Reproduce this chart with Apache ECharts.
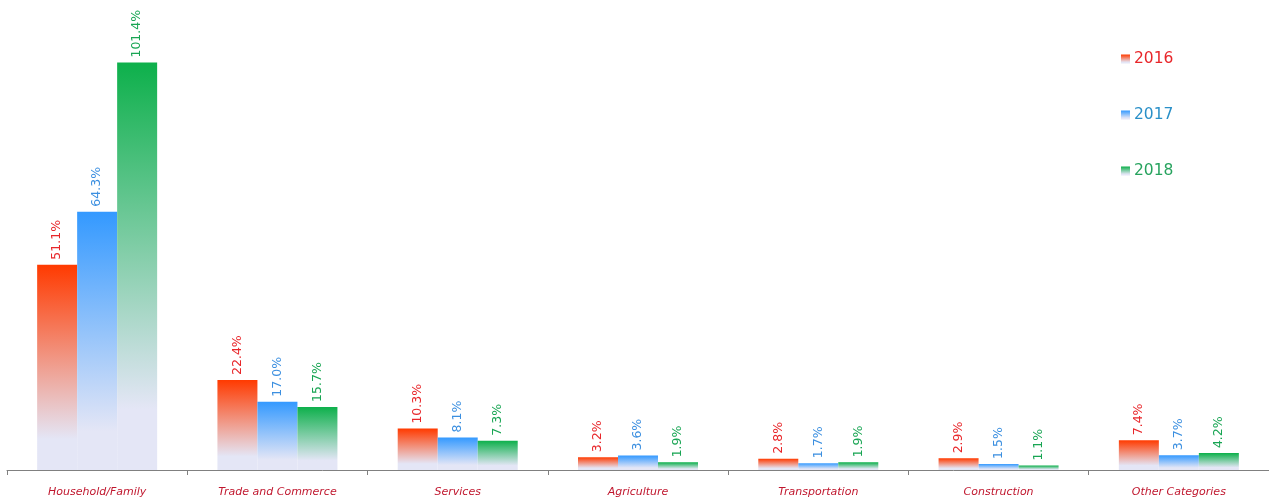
<!DOCTYPE html>
<html><head><meta charset="utf-8">
<script src="https://cdn.jsdelivr.net/npm/echarts@6/dist/echarts.min.js"></script>
<style>html,body{margin:0;padding:0;background:#fff}#c{width:1269px;height:504px}</style>
</head><body><div id="c"></div>
<script>
var categories = ['Household/Family','Trade and Commerce','Services','Agriculture','Transportation','Construction','Other Categories'];
var seriesNames = ['2016','2017','2018'];
var values2016 = [51.1, 22.4, 10.3, 3.2, 2.8, 2.9, 7.4];
var values2017 = [64.3, 17.0, 8.1, 3.6, 1.7, 1.5, 3.7];
var values2018 = [101.4, 15.7, 7.3, 1.9, 1.9, 1.1, 4.2];

var topColors = ['#ff3a00', '#3399ff', '#0db04b'];
var labelColors = ['#e8262a', '#3b8fe0', '#18a553'];
var legendColors = ['#e8262a', '#2a90c8', '#27a35e'];
var bottomColor = '#e4e6f6';
function grad(c){ return new echarts.graphic.LinearGradient(0,0,0,1,[{offset:0,color:c},{offset:0.85,color:bottomColor},{offset:1,color:bottomColor}]); }

var allValues = [values2016, values2017, values2018];
var series = allValues.map(function(v,i){
  return {
    name: seriesNames[i], type:'bar', data:v, barWidth:40, barGap:'0%',
    itemStyle:{color:grad(topColors[i])},
    label:{show:true, position:'top', rotate:90, align:'left', verticalAlign:'middle', distance:5,
      fontFamily:'DejaVu Sans', fontSize:12.5, color:labelColors[i],
      formatter:function(p){return p.value.toFixed(1)+'%';}}
  };
});

var chart = echarts.init(document.getElementById('c'));
chart.setOption({
  animation:false,
  grid:{left:7, top:28, width:1265, bottom:34, containLabel:false},
  legend:{orient:'vertical', left:1116, top:46, itemGap:40, itemWidth:9, itemHeight:9, icon:'rect',
    data: seriesNames.map(function(n,i){return {name:n, textStyle:{color:legendColors[i]}};}),
    textStyle:{fontFamily:'DejaVu Sans', fontSize:15.5, padding:[0,0,0,-1]}},
  xAxis:{type:'category', data:categories, boundaryGap:true,
    axisLine:{lineStyle:{color:'#808080', width:1}},
    axisTick:{show:true, length:5, lineStyle:{color:'#808080'}},
    axisLabel:{fontFamily:'DejaVu Sans', fontSize:11, fontStyle:'italic', color:'#c0172e', margin:17, interval:0}},
  yAxis:{type:'value', min:0, max:110, show:false, splitLine:{show:false}},
  series: series
});
</script></body></html>
